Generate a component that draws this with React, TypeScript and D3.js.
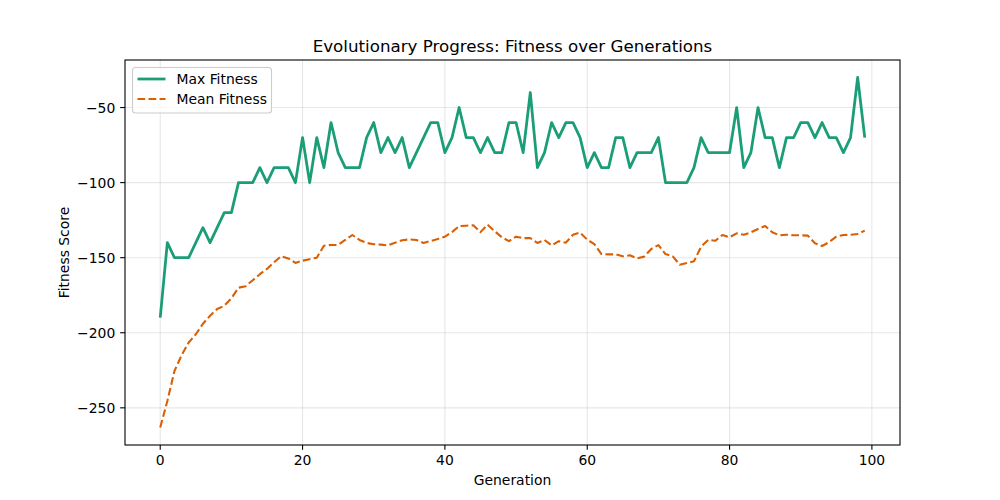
import React from "react";
import * as d3 from "d3";

const generations: number[] = Array.from({ length: 100 }, (_, i) => i);

const maxFitness: number[] = [
  -190, -140, -150, -150, -150, -140, -130, -140, -130, -120,
  -120, -100, -100, -100, -90, -100, -90, -90, -90, -100,
  -70, -100, -70, -90, -60, -80, -90, -90, -90, -70,
  -60, -80, -70, -80, -70, -90, -80, -70, -60, -60,
  -80, -70, -50, -70, -70, -80, -70, -80, -80, -60,
  -60, -80, -40, -90, -80, -60, -70, -60, -60, -70,
  -90, -80, -90, -90, -70, -70, -90, -80, -80, -80,
  -70, -100, -100, -100, -100, -90, -70, -80, -80, -80,
  -80, -50, -90, -80, -50, -70, -70, -90, -70, -70,
  -60, -60, -70, -60, -70, -70, -80, -70, -30, -70,
];

const meanFitness: number[] = [
  -263.1, -245.5, -225.5, -215, -206.5, -201, -194, -188.7, -184.2, -182,
  -177, -170, -169, -165, -161, -157.5, -153, -149, -150.5, -153.5,
  -152, -151, -150, -142, -141.5, -141.5, -138.2, -134.9, -138.2, -140.2,
  -141, -141.3, -141.8, -140, -138.4, -137.8, -138.2, -140.2, -138.9, -137.6,
  -136, -133, -128.9, -128.7, -128.4, -133, -128, -132.4, -136.4, -139,
  -136, -137, -137, -140.2, -138.2, -141.8, -139, -140, -134.7, -133.3,
  -138, -140.9, -147.6, -147.8, -147.8, -149.1, -148.4, -150.4, -149.3, -144.2,
  -141.6, -147.6, -149, -154.7, -153.6, -152.4, -142.7, -138.2, -138.7, -134.9,
  -136.4, -133.8, -134.7, -133.1, -130.9, -128.9, -133.1, -135.1, -134.7, -135.1,
  -135.1, -135.3, -140.4, -142.2, -139.6, -136, -134.9, -134.7, -134.2, -132,
];

const xTicks: number[] = [0, 20, 40, 60, 80, 100];
const yTicks: number[] = [-250, -200, -150, -100, -50];

const seriesNames: string[] = ["Max Fitness", "Mean Fitness"];
const title = "Evolutionary Progress: Fitness over Generations";
const xLabel = "Generation";
const yLabel = "Fitness Score";

const W = 1000;
const H = 500;
const L = 125;
const R = 900;
const T = 60;
const B = 445;
const FONT = "DejaVu Sans, sans-serif";
const GREEN = "#1b9e77";
const ORANGE = "#d95f02";

const fmt = (v: number) => (v < 0 ? "\u2212" + Math.abs(v) : String(v));

export default function App() {
  const xMin = d3.min(generations)!;
  const xMax = d3.max(generations)!;
  const xPad = (xMax - xMin) * 0.05;
  const x = d3.scaleLinear().domain([xMin - xPad, xMax + xPad]).range([L, R]);

  const all = maxFitness.concat(meanFitness);
  const yMin = d3.min(all)!;
  const yMax = d3.max(all)!;
  const yPad = (yMax - yMin) * 0.05;
  const y = d3.scaleLinear().domain([yMin - yPad, yMax + yPad]).range([B, T]);

  const line = d3
    .line<number>()
    .x((_, i) => x(generations[i]))
    .y((d) => y(d));

  const tickLen = 4.86;

  return (
    <svg
      width={W}
      height={H}
      style={{ position: "absolute", left: 0, top: 0, background: "#fff" }}
      fontFamily={FONT}
    >
      <rect x={0} y={0} width={W} height={H} fill="#fff" />
      <defs>
        <clipPath id="plotclip">
          <rect x={L} y={T} width={R - L} height={B - T} />
        </clipPath>
      </defs>
      {/* grid */}
      <g stroke="#b0b0b0" strokeOpacity={0.3} strokeWidth={1.1}>
        {xTicks.map((t) => (
          <line key={"gx" + t} x1={x(t)} x2={x(t)} y1={T} y2={B} />
        ))}
        {yTicks.map((t) => (
          <line key={"gy" + t} x1={L} x2={R} y1={y(t)} y2={y(t)} />
        ))}
      </g>
      {/* lines */}
      <g clipPath="url(#plotclip)" fill="none">
        <path
          d={line(maxFitness) || ""}
          stroke={GREEN}
          strokeWidth={2.78}
          strokeLinejoin="round"
          strokeLinecap="butt"
        />
        <path
          d={line(meanFitness) || ""}
          stroke={ORANGE}
          strokeWidth={2.08}
          strokeDasharray="7.7 3.33"
          strokeLinejoin="round"
        />
      </g>
      {/* frame */}
      <rect x={L} y={T} width={R - L} height={B - T} fill="none" stroke="#000" strokeWidth={1.1} />
      {/* x ticks */}
      {xTicks.map((t) => (
        <g key={"xt" + t}>
          <line x1={x(t)} x2={x(t)} y1={B} y2={B + tickLen} stroke="#000" strokeWidth={1.1} />
          <text x={x(t)} y={B + tickLen + 4.86} dy="0.76em" textAnchor="middle" fontSize={13.9} fill="#000">
            {fmt(t)}
          </text>
        </g>
      ))}
      {/* y ticks */}
      {yTicks.map((t) => (
        <g key={"yt" + t}>
          <line x1={L - tickLen} x2={L} y1={y(t)} y2={y(t)} stroke="#000" strokeWidth={1.1} />
          <text x={L - tickLen - 4.86} y={y(t)} dy="0.36em" textAnchor="end" fontSize={13.9} fill="#000">
            {fmt(t)}
          </text>
        </g>
      ))}
      {/* axis labels */}
      <text x={(L + R) / 2} y={485} textAnchor="middle" fontSize={13.9} fill="#000">
        {xLabel}
      </text>
      <text
        transform={`translate(69, ${(T + B) / 2}) rotate(-90)`}
        textAnchor="middle"
        fontSize={13.9}
        fill="#000"
      >
        {yLabel}
      </text>
      {/* title */}
      <text x={(L + R) / 2} y={52} textAnchor="middle" fontSize={16.7} fill="#000">
        {title}
      </text>
      {/* legend */}
      <g>
        <rect
          x={132.5}
          y={67.5}
          width={139}
          height={45.5}
          rx={3}
          fill="#fff"
          fillOpacity={0.8}
          stroke="#cccccc"
          strokeWidth={1.1}
        />
        <line x1={137.5} x2={165.5} y1={79} y2={79} stroke={GREEN} strokeWidth={2.78} />
        <line x1={137.5} x2={165.5} y1={99} y2={99} stroke={ORANGE} strokeWidth={2.08} strokeDasharray="7.7 3.33" />
        <text x={176.5} y={79} dy="0.36em" fontSize={13.9} fill="#000">
          {seriesNames[0]}
        </text>
        <text x={176.5} y={99} dy="0.36em" fontSize={13.9} fill="#000">
          {seriesNames[1]}
        </text>
      </g>
    </svg>
  );
}
